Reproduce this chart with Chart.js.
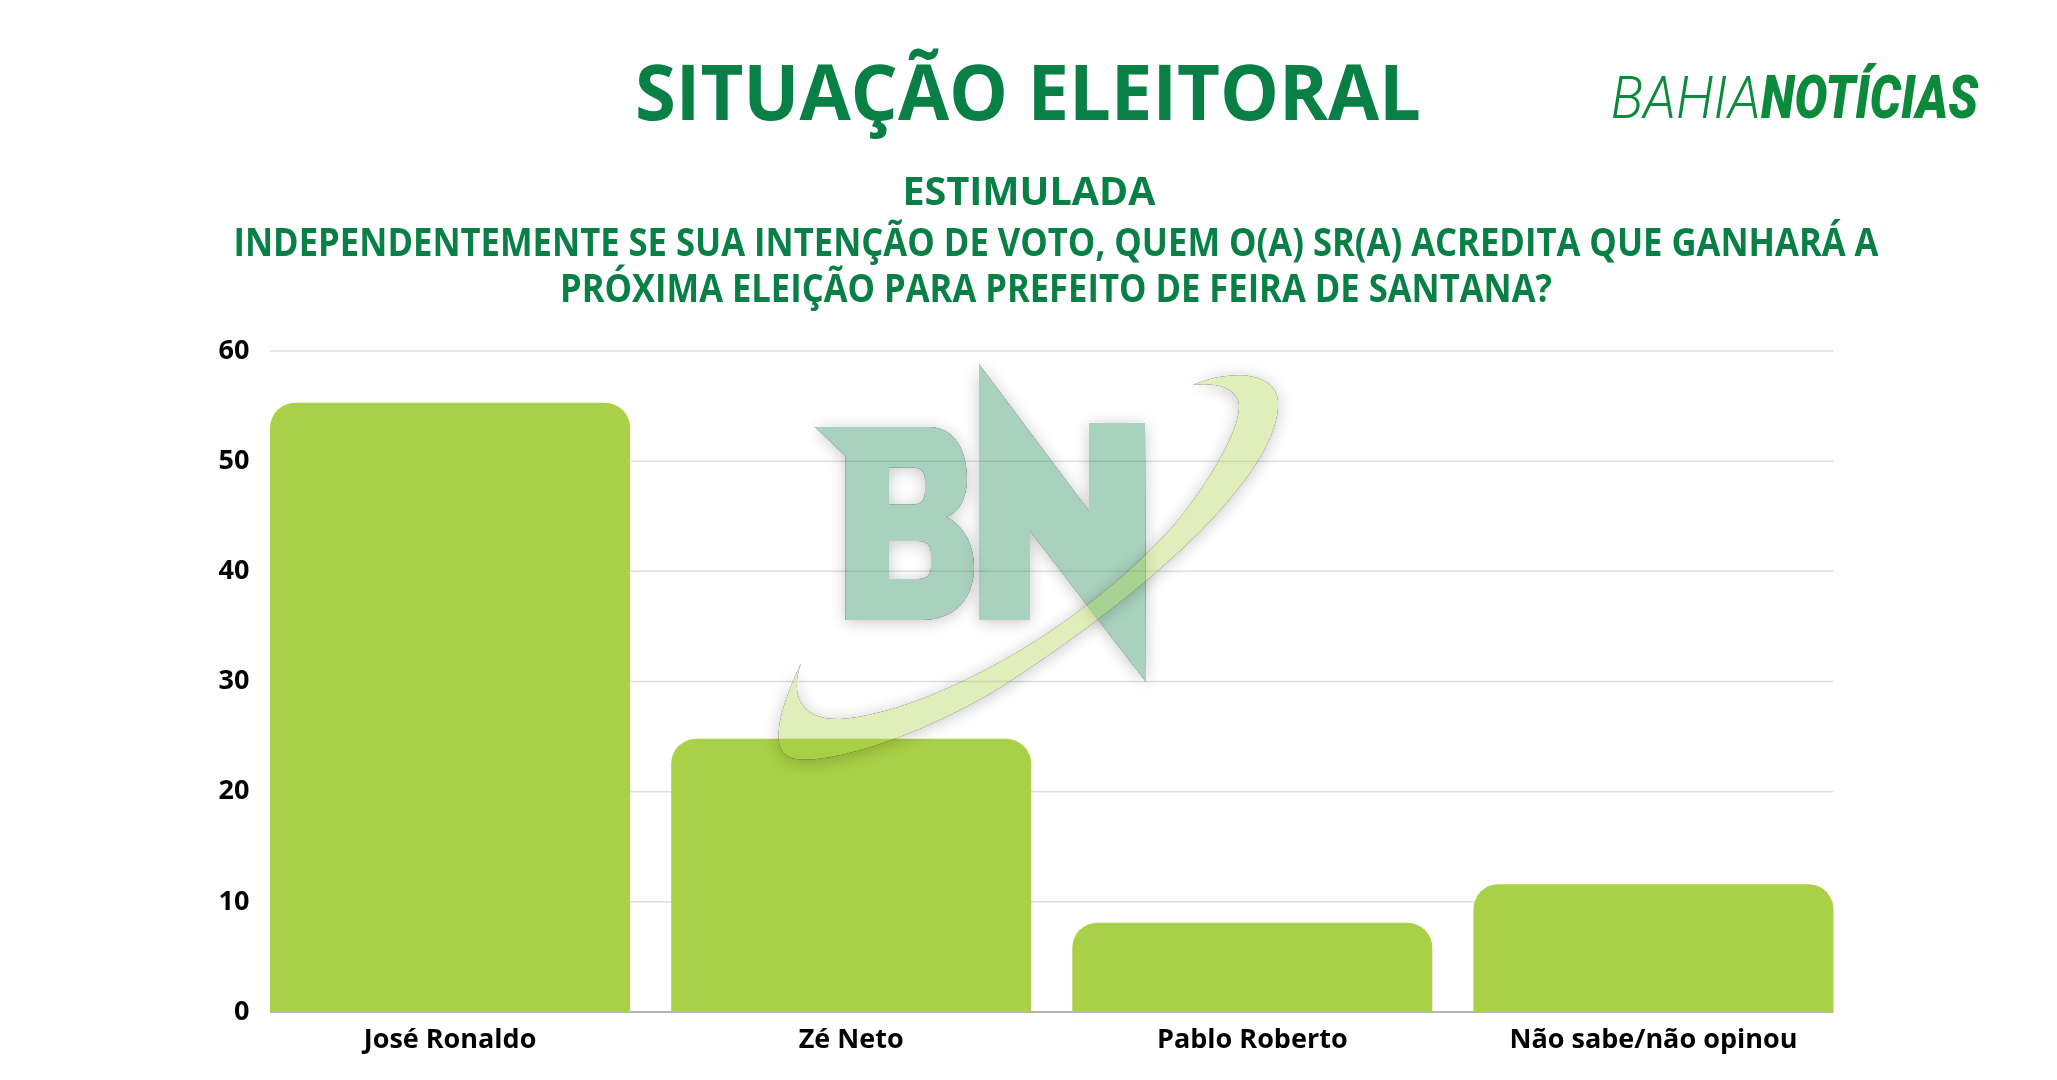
<!DOCTYPE html>
<html lang="pt-BR">
<head>
<meta charset="utf-8">
<title>Situação Eleitoral</title>
<script src="https://cdn.jsdelivr.net/npm/chart.js@4.4.0/dist/chart.umd.min.js"></script>
<style>
    html, body { margin: 0; padding: 0; background: #fff; }
    #wrap { position: relative; width: 2057px; height: 1080px; }
</style>
</head>
<body>
<div id="wrap"><canvas id="chart" width="2057" height="1080"></canvas></div>
<script>
// dados
const candidatos = ["José Ronaldo", "Zé Neto", "Pablo Roberto", "Não sabe/não opinou"];
const percentuais = [55.3, 24.8, 8.1, 11.6];
const eixoY = [0, 10, 20, 30, 40, 50, 60];

const titulo = "SITUAÇÃO ELEITORAL";
const subtitulo = "ESTIMULADA";
const pergunta = [
    "INDEPENDENTEMENTE SE SUA INTENÇÃO DE VOTO, QUEM O(A) SR(A) ACREDITA QUE GANHARÁ A",
    "PRÓXIMA ELEIÇÃO PARA PREFEITO DE FEIRA DE SANTANA?"
];

const VERDE = "#077f45";
const BARRA = "#a9d046";

// texto esticado/comprimido para caber numa largura
function fitText(ctx, text, font, x, baseline, targetW, align) {
    ctx.font = font;
    const w = ctx.measureText(text).width;
    ctx.save();
    ctx.translate(x, baseline);
    ctx.scale(targetW / w, 1);
    ctx.textAlign = align || "center";
    ctx.textBaseline = "alphabetic";
    ctx.fillText(text, 0, 0);
    ctx.restore();
}

const cabecalho = {
    id: "cabecalho",
    beforeDraw(chart) {
        const ctx = chart.ctx;
        ctx.save();
        ctx.fillStyle = VERDE;
        fitText(ctx, titulo, "700 77px 'Open Sans'", 1028, 120, 786);
        fitText(ctx, subtitulo, "700 40px 'Open Sans'", 1029, 205, 253);
        fitText(ctx, pergunta[0], "700 40px 'Open Sans'", 1056, 256, 1645);
        fitText(ctx, pergunta[1], "700 40px 'Open Sans'", 1056, 302, 992);

        ctx.fillStyle = "#0b8a3c";
        fitText(ctx, "BAHIA", "italic 300 60px Roboto", 1611, 118, 150, "left");
        fitText(ctx, "NOTÍCIAS", "italic 900 60px Roboto", 1761, 118, 217, "left");
        ctx.restore();
    }
};

// linhas de grade só sob a extensão das barras
const grade = {
    id: "grade",
    beforeDatasetsDraw(chart) {
        const ctx = chart.ctx;
        const y = chart.scales.y;
        const barras = chart.getDatasetMeta(0).data;
        const esq = barras[0].x - barras[0].width / 2;
        const dir = barras[barras.length - 1].x + barras[barras.length - 1].width / 2;
        ctx.save();
        ctx.strokeStyle = "#dedede";
        ctx.lineWidth = 1.5;
        eixoY.slice(1).forEach(v => {
            const py = y.getPixelForValue(v);
            ctx.beginPath();
            ctx.moveTo(esq, py);
            ctx.lineTo(dir, py);
            ctx.stroke();
        });
        const base = y.getPixelForValue(0);
        ctx.strokeStyle = "#b4b4b4";
        ctx.lineWidth = 2;
        ctx.beginPath();
        ctx.moveTo(esq, base);
        ctx.lineTo(dir, base);
        ctx.stroke();
        ctx.restore();
    }
};

function pathB(ctx) {
    ctx.moveTo(815, 427);
    ctx.lineTo(929, 427);
    ctx.bezierCurveTo(956, 427, 967, 453, 967, 478);
    ctx.bezierCurveTo(967, 497, 960, 512, 946, 517);
    ctx.bezierCurveTo(965, 526, 974, 546, 974, 567);
    ctx.bezierCurveTo(974, 598, 955, 620, 922, 620);
    ctx.lineTo(845.5, 620);
    ctx.lineTo(845.5, 456);
    ctx.closePath();
    // furos
    ctx.moveTo(889, 467.5);
    ctx.lineTo(912, 467.5);
    ctx.quadraticCurveTo(925, 467.5, 925, 480);
    ctx.lineTo(925, 492);
    ctx.quadraticCurveTo(925, 504.5, 912, 504.5);
    ctx.lineTo(889, 504.5);
    ctx.closePath();
    ctx.moveTo(889, 541);
    ctx.lineTo(918, 541);
    ctx.quadraticCurveTo(931, 541, 931, 554);
    ctx.lineTo(931, 567);
    ctx.quadraticCurveTo(931, 579, 918, 579);
    ctx.lineTo(889, 579);
    ctx.closePath();
}

function pathN(ctx) {
    ctx.moveTo(979, 364);
    ctx.lineTo(1089, 511);
    ctx.lineTo(1089, 423);
    ctx.lineTo(1145, 423);
    ctx.lineTo(1146, 682);
    ctx.lineTo(1030, 531);
    ctx.lineTo(1030, 620);
    ctx.lineTo(979, 620);
    ctx.closePath();
}

function pathSwoosh(ctx) {
    ctx.moveTo(1193, 385);
    ctx.bezierCurveTo(1225, 371, 1275, 369, 1278, 401);
    ctx.bezierCurveTo(1282, 468, 1160, 585, 1001, 687);
    ctx.bezierCurveTo(920, 737, 830, 764, 796, 759);
    ctx.bezierCurveTo(772, 756, 772, 725, 801, 663);
    ctx.bezierCurveTo(790, 695, 800, 720, 840, 719);
    ctx.bezierCurveTo(930, 713, 1090, 625, 1180, 518);
    ctx.bezierCurveTo(1215, 474, 1245, 420, 1238, 400);
    ctx.bezierCurveTo(1232, 385, 1210, 383, 1193, 385);
    ctx.closePath();
}

function sombraEForma(ctx, chart, desenha, cor) {
    // sombra só por fora da forma
    ctx.save();
    ctx.beginPath();
    ctx.rect(0, 0, chart.width, chart.height);
    desenha(ctx);
    ctx.clip("evenodd");
    ctx.beginPath();
    desenha(ctx);
    ctx.shadowColor = "rgba(0,0,0,0.22)";
    ctx.shadowBlur = 16;
    ctx.shadowOffsetY = 2;
    ctx.fillStyle = "rgba(0,0,0,1)";
    ctx.fill("evenodd");
    ctx.restore();

    ctx.save();
    ctx.beginPath();
    desenha(ctx);
    ctx.fillStyle = cor;
    ctx.fill("evenodd");
    ctx.restore();
}

const marcaDagua = {
    id: "marcaDagua",
    afterDatasetsDraw(chart) {
        const ctx = chart.ctx;
        sombraEForma(ctx, chart, pathB, "rgba(7,125,68,0.35)");
        sombraEForma(ctx, chart, pathN, "rgba(7,125,68,0.35)");
        sombraEForma(ctx, chart, pathSwoosh, "rgba(169,209,70,0.37)");
    }
};

new Chart(document.getElementById("chart"), {
    type: "bar",
    data: {
        labels: candidatos,
        datasets: [{
            data: percentuais,
            backgroundColor: BARRA,
            borderWidth: 0,
            borderRadius: { topLeft: 25, topRight: 25, bottomLeft: 0, bottomRight: 0 },
            borderSkipped: "bottom",
            barPercentage: 0.8975,
            categoryPercentage: 1
        }]
    },
    options: {
        responsive: false,
        animation: false,
        events: [],
        layout: { padding: { top: 351, right: 203, left: 0, bottom: 0 } },
        plugins: {
            legend: { display: false },
            tooltip: { enabled: false }
        },
        scales: {
            x: {
                afterFit(s) { s.height = 68; },
                grid: { display: false, drawTicks: false },
                border: { display: false },
                ticks: {
                    color: "#000",
                    padding: 12,
                    font: { family: "'Open Sans'", weight: "700", size: 27 }
                }
            },
            y: {
                min: eixoY[0],
                max: eixoY[eixoY.length - 1],
                afterFit(s) { s.width = 249.5; },
                afterBuildTicks(s) { s.ticks = eixoY.map(v => ({ value: v })); },
                grid: { display: false, drawTicks: false },
                border: { display: false },
                ticks: {
                    color: "#000",
                    padding: 0,
                    font: { family: "'Open Sans'", weight: "700", size: 27 }
                }
            }
        }
    },
    plugins: [cabecalho, grade, marcaDagua]
});
</script>
</body>
</html>
